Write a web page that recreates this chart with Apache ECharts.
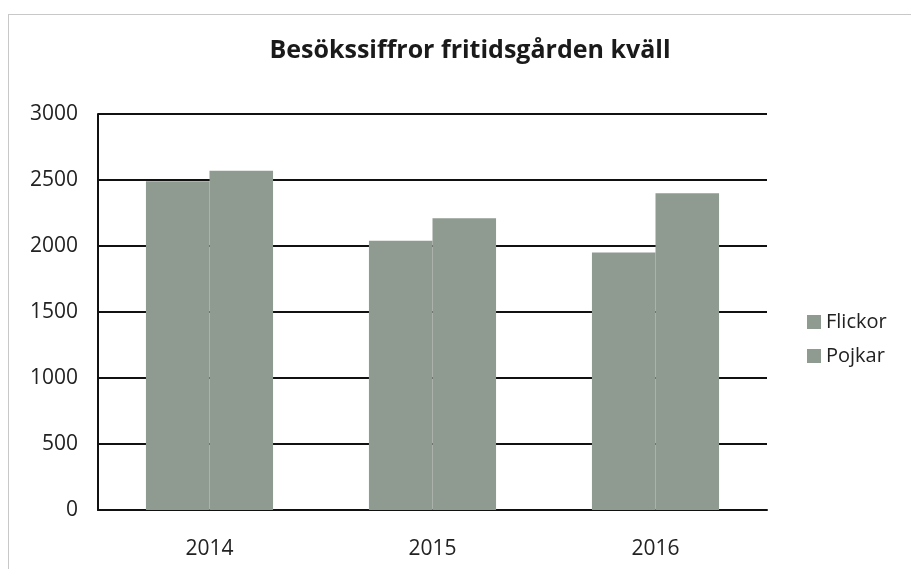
<!DOCTYPE html>
<html>
<head>
<meta charset="utf-8">
<script src="https://cdn.jsdelivr.net/npm/echarts@6/dist/echarts.min.js"></script>
<style>
  body{margin:0;background:#fff;}
  #chart{position:absolute;left:8px;top:14px;width:910px;height:560px;border:1px solid #c8c8c8;box-sizing:border-box;}
</style>
</head>
<body>
<div id="chart"></div>
<script>
  var years = ['2014', '2015', '2016']
  var flickor = [2490, 2040, 1950]
  var pojkar = [2570, 2210, 2400]
  var yTicks = [0, 500, 1000, 1500, 2000, 2500, 3000]

  var myChart = echarts.init(document.getElementById('chart'))
  var barColor = '#8f9a91'
  var font = 'Open Sans'
  var option = {
    animation: false,
    title: {
      text: 'Besökssiffror fritidsgården kväll',
      left: 456,
      top: 18,
      textAlign: 'center',
      textStyle: {fontFamily: font, fontSize: 25, fontWeight: 'bold', color: '#1a1a1a'}
    },
    legend: {
      orient: 'vertical',
      left: 793,
      top: 292,
      itemWidth: 14,
      itemHeight: 14,
      itemGap: 14,
      icon: 'rect',
      textStyle: {fontFamily: font, fontSize: 20, color: '#222'},
      data: ['Flickor', 'Pojkar']
    },
    grid: {left: 89, right: 150, top: 99, bottom: 63},
    xAxis: {
      type: 'category',
      data: years,
      axisLine: {lineStyle: {color: '#111', width: 2}},
      axisTick: {show: false},
      axisLabel: {fontFamily: font, fontSize: 21, color: '#222', margin: 29}
    },
    yAxis: {
      type: 'value',
      min: yTicks[0],
      max: yTicks[yTicks.length - 1],
      interval: 500,
      axisLine: {show: true, lineStyle: {color: '#111', width: 2}},
      axisTick: {show: false},
      splitLine: {lineStyle: {color: '#111', width: 2}},
      axisLabel: {fontFamily: font, fontSize: 21, color: '#222', margin: 20, formatter: function (v) { return String(v) }}
    },
    series: [
      {name: 'Flickor', type: 'bar', data: flickor, itemStyle: {color: barColor}, barGap: '0%', barCategoryGap: '43%'},
      {name: 'Pojkar', type: 'bar', data: pojkar, itemStyle: {color: barColor}, barGap: '0%', barCategoryGap: '43%'}
    ]
  }
  myChart.setOption(option)
</script>
</body>
</html>
